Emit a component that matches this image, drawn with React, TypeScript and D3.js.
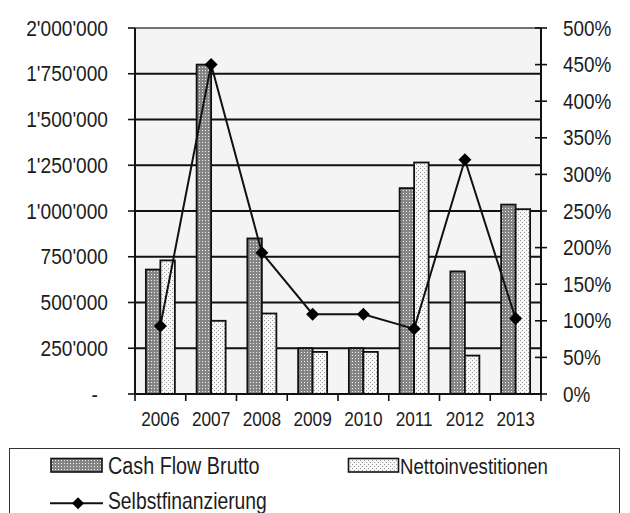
import React from "react";
import * as d3 from "d3";

// Jahreswerte
const years = ["2006", "2007", "2008", "2009", "2010", "2011", "2012", "2013"];
const cashFlowBrutto = [680000, 1800000, 850000, 250000, 250000, 1125000, 670000, 1035000];
const nettoinvestitionen = [730000, 400000, 440000, 230000, 230000, 1265000, 210000, 1010000];
// Selbstfinanzierungsgrad in Prozent
const selbstfinanzierung = [93, 450, 193, 109, 109, 89, 320, 103];

const leftTicks = [0, 250000, 500000, 750000, 1000000, 1250000, 1500000, 1750000, 2000000];
const rightTicks = [0, 50, 100, 150, 200, 250, 300, 350, 400, 450, 500];

const seriesNames = ["Cash Flow Brutto", "Nettoinvestitionen", "Selbstfinanzierung"];

const W = 630;
const H = 513;
const plot = { left: 135, right: 541, top: 28, bottom: 394 };

const FONT = "'Liberation Sans', Arial, sans-serif";
const INK = "#1c1c1c";

const fmtLeft = (v: number) => (v === 0 ? "-" : d3.format(",")(v).replace(/,/g, "'"));

function NText({
  x,
  y,
  size,
  sx = 0.82,
  anchor = "start",
  children,
}: {
  x: number;
  y: number;
  size: number;
  sx?: number;
  anchor?: "start" | "middle" | "end";
  children: React.ReactNode;
}) {
  return (
    <text
      transform={`translate(${x},${y}) scale(${sx},1)`}
      fontFamily={FONT}
      fontSize={size}
      textAnchor={anchor}
      fill={INK}
    >
      {children}
    </text>
  );
}

export default function App() {
  const x = d3
    .scaleBand<string>()
    .domain(years)
    .range([plot.left, plot.right])
    .paddingInner(0.4286)
    .paddingOuter(0.2143);
  const xSeries = d3
    .scaleBand<string>()
    .domain(["cash", "netto"])
    .range([0, x.bandwidth()]);
  const y = d3.scaleLinear().domain([0, 2000000]).range([plot.bottom, plot.top]);
  const y2 = d3.scaleLinear().domain([0, 500]).range([plot.bottom, plot.top]);

  const step = x.step();
  const center = (yr: string) => (x(yr) as number) + x.bandwidth() / 2;

  const line = d3
    .line<number>()
    .x((_, i) => center(years[i]))
    .y((d) => y2(d));

  const diamond = (cx: number, cy: number, r: number) =>
    `M${cx},${cy - r}L${cx + r},${cy}L${cx},${cy + r}L${cx - r},${cy}Z`;

  // Kategoriengrenzen auf der x-Achse
  const boundaries = years.map((yr) => center(yr) - step / 2).concat([plot.right]);

  return (
    <svg
      width={W}
      height={H}
      style={{ position: "absolute", left: 0, top: 0, background: "#fff" }}
    >
      <defs>
        <pattern id="pCash" width="3" height="3" patternUnits="userSpaceOnUse">
          <rect width="3" height="3" fill="#858585" />
          <rect x="1" y="1" width="1" height="1" fill="#f0f0f0" />
        </pattern>
        <pattern id="pNetto" width="4" height="4" patternUnits="userSpaceOnUse">
          <rect width="4" height="4" fill="#f7f7f7" />
          <rect x="0" y="0" width="1" height="1" fill="#9a9a9a" />
          <rect x="2" y="2" width="1" height="1" fill="#9a9a9a" />
        </pattern>
      </defs>

      {/* Plotfläche */}
      <rect
        x={plot.left}
        y={plot.top}
        width={plot.right - plot.left}
        height={plot.bottom - plot.top}
        fill="#f4f4f4"
      />

      {/* Gitterlinien */}
      {leftTicks
        .filter((t) => t > 0)
        .map((t) => (
          <line
            key={`g${t}`}
            x1={plot.left}
            x2={plot.right}
            y1={y(t)}
            y2={y(t)}
            stroke={t === 2000000 ? "#444" : "#111"}
            strokeWidth={t === 2000000 ? 1.3 : 2}
          />
        ))}

      {/* Balken */}
      {years.map((yr, i) => (
        <g key={`b${yr}`}>
          <rect
            x={(x(yr) as number) + (xSeries("cash") as number)}
            y={y(cashFlowBrutto[i])}
            width={xSeries.bandwidth()}
            height={plot.bottom - y(cashFlowBrutto[i])}
            fill="url(#pCash)"
            stroke="#111"
            strokeWidth={1.8}
          />
          <rect
            x={(x(yr) as number) + (xSeries("netto") as number)}
            y={y(nettoinvestitionen[i])}
            width={xSeries.bandwidth()}
            height={plot.bottom - y(nettoinvestitionen[i])}
            fill="url(#pNetto)"
            stroke="#111"
            strokeWidth={1.8}
          />
        </g>
      ))}

      {/* Achsen */}
      <line x1={plot.left} x2={plot.left} y1={plot.top} y2={plot.bottom} stroke="#111" strokeWidth={2} />
      <line x1={plot.right} x2={plot.right} y1={plot.top} y2={plot.bottom} stroke="#111" strokeWidth={2} />
      <line x1={plot.left - 1} x2={plot.right + 1} y1={plot.bottom} y2={plot.bottom} stroke="#111" strokeWidth={2} />

      {leftTicks.map((t) => (
        <g key={`l${t}`}>
          <line x1={plot.left - 7} x2={plot.left} y1={y(t)} y2={y(t)} stroke="#111" strokeWidth={1.6} />
          <NText x={t === 0 ? 98 : 108} y={y(t) + 7.5} size={22} sx={0.87} anchor="end">
            {fmtLeft(t)}
          </NText>
        </g>
      ))}

      {rightTicks.map((t) => (
        <g key={`r${t}`}>
          <line x1={plot.right - 6} x2={plot.right + 6} y1={y2(t)} y2={y2(t)} stroke="#111" strokeWidth={1.6} />
          <NText x={563} y={y2(t) + 7.5} size={22} sx={0.86}>
            {`${t}%`}
          </NText>
        </g>
      ))}

      {boundaries.map((bx, i) => (
        <line key={`t${i}`} x1={bx} x2={bx} y1={plot.bottom} y2={plot.bottom + 7} stroke="#111" strokeWidth={1.6} />
      ))}
      {years.map((yr) => (
        <NText key={`y${yr}`} x={center(yr)} y={426} size={21} anchor="middle">
          {yr}
        </NText>
      ))}

      {/* Selbstfinanzierung */}
      <path d={line(selbstfinanzierung) ?? ""} fill="none" stroke="#111" strokeWidth={2} />
      {selbstfinanzierung.map((v, i) => (
        <path key={`m${i}`} d={diamond(center(years[i]), y2(v), 6.5)} fill="#000" />
      ))}

      {/* Legende */}
      <rect x={9.5} y={448.5} width={610} height={80} fill="#fff" stroke="#333" strokeWidth={1} />
      <rect x={51} y={458.5} width={51} height={13.5} fill="url(#pCash)" stroke="#111" strokeWidth={1.6} />
      <NText x={108} y={474} size={23} sx={0.86}>
        {seriesNames[0]}
      </NText>
      <rect x={348.5} y={458.5} width={50} height={13.5} fill="url(#pNetto)" stroke="#111" strokeWidth={1.6} />
      <NText x={400} y={474} size={23} sx={0.81}>
        {seriesNames[1]}
      </NText>
      <line x1={50} x2={103} y1={503.3} y2={503.3} stroke="#111" strokeWidth={2} />
      <path d={diamond(78, 503.3, 6)} fill="#000" />
      <NText x={108} y={509} size={23} sx={0.84}>
        {seriesNames[2]}
      </NText>
    </svg>
  );
}
